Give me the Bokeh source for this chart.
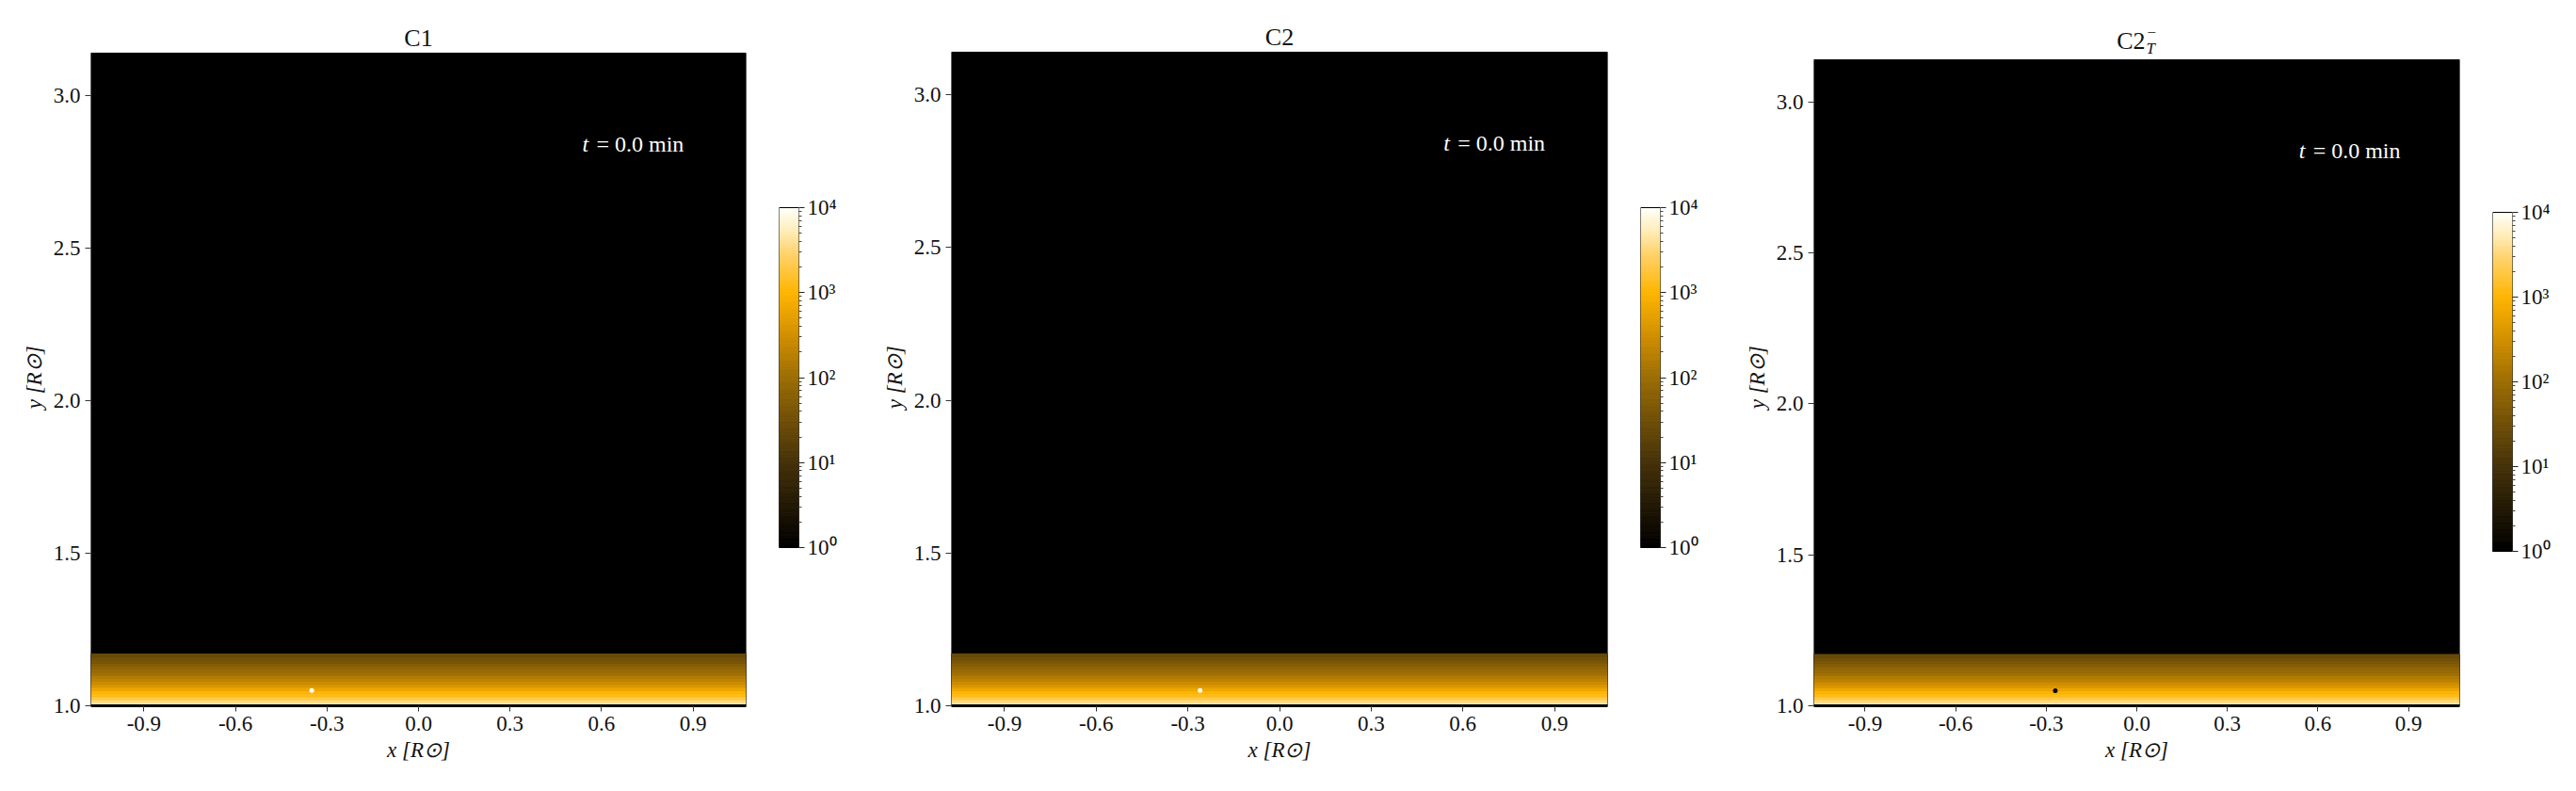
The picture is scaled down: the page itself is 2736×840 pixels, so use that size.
import numpy as np
from bokeh.plotting import figure
from bokeh.layouts import row
from bokeh.models import FixedTicker, NumeralTickFormatter, Label, ColumnDataSource, Range1d
from bokeh.transform import log_cmap
from bokeh.embed import file_html
from bokeh.resources import INLINE

# ---------------- data ----------------
PANEL_TITLES = ["C1", "C2", "C2"]
TIME_VALUE = "= 0.0 min"
X_TICKS = [-0.9, -0.6, -0.3, 0.0, 0.3, 0.6, 0.9]
Y_TICKS = [1.0, 1.5, 2.0, 2.5, 3.0]
X_HALF = [1.074, 1.074, 1.070]      # x extent of each panel (+/-)
Y_LOW = 1.0
Y_TOP = [3.139, 3.139, 3.14]        # top of the image in each panel

# brightness profile of the low band (rows 0.01 R_sun tall)
BAND_Y = [1.00, 1.01, 1.02, 1.03, 1.04, 1.05, 1.06, 1.07, 1.08,
          1.09, 1.10, 1.11, 1.12, 1.13, 1.14, 1.15, 1.16]
BAND_I = [6300, 3500, 2000, 1250, 1000, 630, 400, 280, 200,
          160, 110, 90, 70, 56, 40, 32, 25]
BAND_DY = 0.01

DOT_X = [-0.35, -0.26, -0.27]
DOT_Y = [1.05, 1.05, 1.05]
DOT_COLORS = ["#ffffff", "#ffffff", "#000000"]

CB_LOW, CB_HIGH = 1, 10000
CB_TICKS = [1, 10, 100, 1000, 10000]
CB_LABELS = {1: "10⁰", 10: "10¹", 100: "10²", 1000: "10³", 10000: "10⁴"}

# colormap anchors (fraction of log range -> colour)
CMAP_POS = [0.0, 0.25, 0.5, 0.62, 0.75, 0.86, 0.94, 1.0]
CMAP_COL = ["#000000", "#45320a", "#9c6d05", "#cf8e00", "#ffb400",
            "#ffd064", "#ffeebe", "#fffff8"]

FONT = "Liberation Serif"
INK = "#111111"
TICK_FS = "23px"


def build_palette(n=256):
    rgb = np.array([[int(c[i:i + 2], 16) for i in (1, 3, 5)] for c in CMAP_COL], float)
    out = []
    for v in np.linspace(0, 1, n):
        r, g, b = (np.interp(v, CMAP_POS, rgb[:, k]) for k in range(3))
        out.append("#%02x%02x%02x" % (int(round(r)), int(round(g)), int(round(b))))
    return out


PALETTE = build_palette()
H = 840          # figure height
BOT = 91         # bottom border (x tick labels + label)
FH = H - BOT     # frame height (title area is inside the frame)


def make_panel(i, width, left, right):
    fw = width - left - right
    xh = X_HALF[i]
    ymax = Y_LOW + FH * (2 * xh) / fw      # equal aspect
    p = figure(width=width, height=H, x_range=Range1d(-xh, xh), y_range=Range1d(Y_LOW, ymax),
               min_border_left=left, min_border_right=right,
               min_border_top=0, min_border_bottom=BOT,
               toolbar_location=None, output_backend="svg")
    p.background_fill_color = "white"
    p.border_fill_color = "white"
    p.outline_line_color = None
    p.grid.visible = False

    for ax in (p.xaxis[0], p.yaxis[0]):
        ax.major_label_text_font = FONT
        ax.major_label_text_font_size = TICK_FS
        ax.major_label_text_color = INK
        ax.axis_label_text_font = FONT
        ax.axis_label_text_font_size = "23px"
        ax.axis_label_text_font_style = "italic"
        ax.axis_label_text_color = INK
        ax.major_tick_out = 6
        ax.major_tick_in = 0
        ax.minor_tick_out = 0
        ax.minor_tick_in = 0
        ax.major_tick_line_color = "#333333"
        ax.formatter = NumeralTickFormatter(format="0.0")
        ax.major_label_standoff = 5
        ax.axis_label_standoff = 5
    p.xaxis[0].ticker = FixedTicker(ticks=X_TICKS)
    p.yaxis[0].ticker = FixedTicker(ticks=Y_TICKS)
    p.xaxis[0].axis_line_color = "black"
    p.xaxis[0].axis_line_width = 3
    p.yaxis[0].axis_line_color = None
    p.xaxis[0].axis_label = "x [R⊙]"
    p.yaxis[0].axis_label = "y [R⊙]" + "\u00a0" * 9

    # image area (black = below colour scale)
    p.quad(left=[-xh], right=[xh], bottom=[Y_LOW], top=[Y_TOP[i]],
           fill_color="black", line_color=None)

    n = len(BAND_Y)
    src = ColumnDataSource(dict(I=BAND_I, left=[-xh] * n, right=[xh] * n,
                                bottom=BAND_Y, top=[b + BAND_DY for b in BAND_Y]))
    cmap = log_cmap("I", PALETTE, CB_LOW, CB_HIGH)
    p.quad(left="left", right="right", bottom="bottom", top="top", source=src,
           fill_color=cmap, line_color=cmap, line_width=1)
    p.scatter(x=[DOT_X[i]], y=[DOT_Y[i]], size=5, color=DOT_COLORS[i], line_width=0)

    # frame outline
    p.quad(left=[-xh], right=[xh], bottom=[Y_LOW], top=[Y_TOP[i]],
           fill_color=None, line_color="black", line_width=1)

    # time stamp
    p.add_layout(Label(x=0.537, y=2.84, text="t", text_font=FONT, text_font_size="24px",
                       text_font_style="italic", text_color="white", text_baseline="middle"))
    p.add_layout(Label(x=0.537, y=2.84, x_offset=15, text=TIME_VALUE, text_font=FONT,
                       text_font_size="24px", text_color="white", text_baseline="middle"))
    return p


def make_cb(left, right, bar_top_px, bar_bottom_px):
    # bar_top_px / bar_bottom_px: distance of bar ends from the frame top (px)
    ppd = (bar_bottom_px - bar_top_px) / (np.log10(CB_HIGH) - np.log10(CB_LOW))
    lo = np.log10(CB_LOW) - (FH - bar_bottom_px) / ppd
    hi = np.log10(CB_HIGH) + bar_top_px / ppd
    cb = figure(width=left + 21 + right, height=H, x_range=Range1d(0, 1),
                y_range=Range1d(10 ** lo, 10 ** hi), y_axis_type="log",
                min_border_left=left, min_border_right=right,
                min_border_top=0, min_border_bottom=BOT,
                x_axis_location=None, y_axis_location="right",
                toolbar_location=None, output_backend="svg")
    cb.grid.visible = False
    cb.outline_line_color = None
    n = len(PALETTE)
    edges = np.logspace(np.log10(CB_LOW), np.log10(CB_HIGH), n + 1)
    mids = np.sqrt(edges[:-1] * edges[1:])
    src = ColumnDataSource(dict(b=edges[:-1], t=edges[1:], I=mids))
    cmap = log_cmap("I", PALETTE, CB_LOW, CB_HIGH)
    cb.quad(left=0, right=1, bottom="b", top="t", source=src,
            fill_color=cmap, line_color=cmap, line_width=1)
    cb.quad(left=[0], right=[1], bottom=[CB_LOW], top=[CB_HIGH],
            fill_color=None, line_color="black", line_width=1)
    minor = [m * t for t in CB_TICKS[:-1] for m in range(2, 10)]
    ax = cb.yaxis[0]
    ax.ticker = FixedTicker(ticks=CB_TICKS, minor_ticks=minor)
    ax.major_label_overrides = CB_LABELS
    ax.major_label_text_font = FONT
    ax.major_label_text_font_size = TICK_FS
    ax.major_label_text_color = INK
    ax.major_tick_out = 6
    ax.major_tick_in = 0
    ax.minor_tick_out = 3
    ax.minor_tick_in = 0
    ax.major_tick_line_color = "#222222"
    ax.minor_tick_line_color = "#444444"
    ax.axis_line_color = None
    ax.major_label_standoff = 3
    return cb


p1 = make_panel(0, 802, 96, 10)
p2 = make_panel(1, 803, 96, 10)
p3 = make_panel(2, 792, 96, 10)

cb1 = make_cb(25, 66, 220, 581)
cb2 = make_cb(25, 67, 220, 581)
cb3 = make_cb(25, 68, 225, 585)

# titles
for k, p in ((0, p1), (1, p2)):
    p.add_layout(Label(x=0.0, y=Y_TOP[k], y_offset=16, text=PANEL_TITLES[k], text_align="center",
                       text_baseline="alphabetic", text_font=FONT, text_font_size="26px",
                       text_color=INK))
p3.add_layout(Label(x=0.028, y=Y_TOP[2], y_offset=20, text=PANEL_TITLES[2], text_align="right",
                    text_baseline="alphabetic", text_font=FONT, text_font_size="26px",
                    text_color=INK))
p3.add_layout(Label(x=0.028, y=Y_TOP[2], x_offset=2, y_offset=29, text="−", text_align="left",
                    text_baseline="middle", text_font=FONT, text_font_size="17px",
                    text_color=INK))
p3.add_layout(Label(x=0.028, y=Y_TOP[2], x_offset=1, y_offset=12, text="T", text_align="left",
                    text_baseline="alphabetic", text_font=FONT, text_font_size="17px",
                    text_font_style="italic", text_color=INK))

layout = row(p1, cb1, p2, cb2, p3, cb3)
open("out.html", "w").write(file_html(layout, INLINE))
